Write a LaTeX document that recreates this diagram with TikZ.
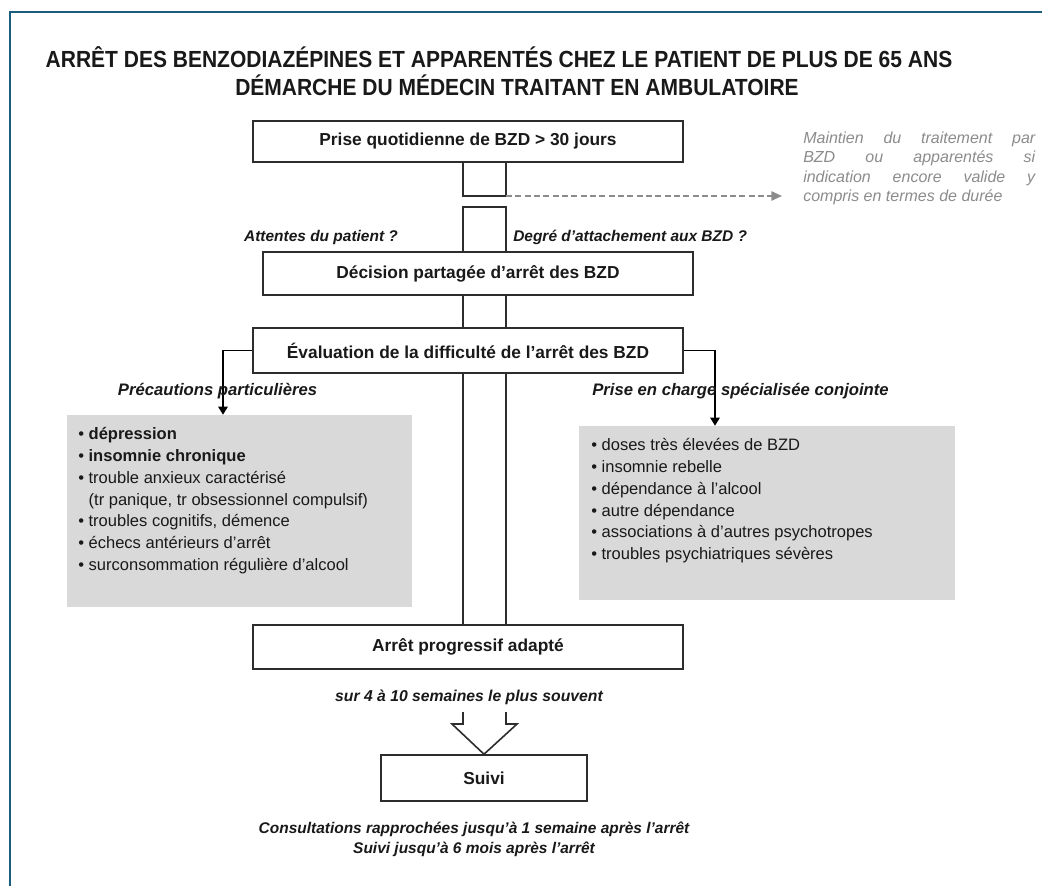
\documentclass[tikz,border=0pt]{standalone}
\usepackage{fontspec}
\setmainfont{Liberation Sans}
\usetikzlibrary{arrows.meta,calc}
\definecolor{framecol}{RGB}{27,93,124}
\definecolor{boxline}{RGB}{45,45,45}
\definecolor{greyfill}{RGB}{217,217,217}
\definecolor{greytext}{RGB}{140,140,140}
\definecolor{txt}{RGB}{25,25,25}
\begin{document}
\begin{tikzpicture}[x=0.75pt,y=-0.75pt,
  titlestyle/.style={font=\fontsize{17.5}{20}\selectfont\bfseries,text=txt,inner sep=0pt,xscale=0.9},
  stepbox/.style={draw=boxline,line width=1.2pt,fill=white,inner sep=0pt,font=\fontsize{13}{15}\selectfont\bfseries,text=txt},
  greybox/.style={fill=greyfill,draw=none,inner sep=0pt},
  pipe/.style={draw=boxline,line width=1.2pt},
  lab/.style={font=\fontsize{11.6}{14}\selectfont\bfseries\itshape,text=txt,inner sep=0pt},
  headlab/.style={font=\fontsize{12.5}{15}\selectfont\bfseries\itshape,text=txt,inner sep=0pt},
  conn/.style={draw=black,line width=1.2pt,-{Triangle[length=6pt,width=7pt]}},
  dashline/.style={draw=greytext,line width=1.2pt,dash pattern=on 4.5pt off 2.5pt,-{Triangle[length=8pt,width=7pt]}},
  itemlist/.style={font=\fontsize{12.4}{16.4}\selectfont,align=left,inner sep=0pt,anchor=north west,text=txt},
]
\useasboundingbox (0,0) rectangle (1042,886);
\fill[white] (0,0) rectangle (1042,886);
\draw[framecol,line width=2pt] (10,886) -- (10,12) -- (1042,12);

% titles
\node[titlestyle] (t1) at (499,57) {ARRÊT DES BENZODIAZÉPINES ET APPARENTÉS CHEZ LE PATIENT DE PLUS DE 65 ANS};
\node[titlestyle] (t2) at (517,85) {DÉMARCHE DU MÉDECIN TRAITANT EN AMBULATOIRE};

% pipe coordinates
\coordinate (pl) at (463,0);
\coordinate (pr) at (506,0);
\coordinate (ubot) at (484,196);
\coordinate (btop) at (484,207);

% boxes
\node[stepbox,minimum width=322.5pt,minimum height=30.75pt] (box1) at (468,141.5) {Prise quotidienne de BZD > 30 jours};
\node[stepbox,minimum width=322.5pt,minimum height=32.25pt] (dec) at (478,273.5) {Décision partagée d'arrêt des BZD};
\node[stepbox,minimum width=322.5pt,minimum height=33.75pt] (eva) at (468,350.5) {Évaluation de la difficulté de l'arrêt des BZD};
\node[stepbox,minimum width=322.5pt,minimum height=33pt] (arr) at (468,647) {Arrêt progressif adapté};
\node[stepbox,minimum width=154.5pt,minimum height=34.5pt] (suivi) at (484,778) {Suivi};

% pipe segments
\draw[pipe] (box1.south -| pl) -- (pl |- ubot) -- (pr |- ubot) -- (box1.south -| pr);
\draw[pipe] (dec.north -| pl) -- (pl |- btop) -- (pr |- btop) -- (dec.north -| pr);
\draw[pipe] (dec.south -| pl) -- (eva.north -| pl);
\draw[pipe] (dec.south -| pr) -- (eva.north -| pr);
\draw[pipe] (eva.south -| pl) -- (arr.north -| pl);
\draw[pipe] (eva.south -| pr) -- (arr.north -| pr);

% dashed arrow and side text
\node[anchor=north west,text width=174pt,align=justify,inner sep=0pt,
      font=\fontsize{12}{14.3}\selectfont\itshape,text=greytext] (maint) at (803,132)
  {Maintien du traitement par\linebreak BZD ou apparentés si\linebreak indication encore valide y\linebreak compris en termes de durée};
\coordinate (dtip) at (782,196);
\draw[dashline] (pr |- ubot) -- (dtip);

% labels around decision
\node[lab] (att) at (321,237) {Attentes du patient ?};
\node[lab,anchor=west] (deg) at (513,237) {Degré d'attachement aux BZD ?};

% grey boxes
\node[greybox,minimum width=258.75pt,minimum height=144pt] (gl) at (239.5,511) {};
\node[greybox,minimum width=282pt,minimum height=130.5pt] (gr) at (767,513) {};

% branches
\coordinate (lx) at (223,0);
\coordinate (rx) at (715,0);
\draw[conn] (eva.west) -| (gl.north -| lx);
\draw[conn] (eva.east) -| (gr.north -| rx);
\node[headlab] (prec) at (217.5,391) {Précautions particulières};
\node[headlab] (pec) at (740.5,391) {Prise en charge spécialisée conjointe};

% lists
\node[itemlist] (ll) at (78,427) {\textbullet\ \textbf{dépression}\\
\textbullet\ \textbf{insomnie chronique}\\
\textbullet\ trouble anxieux caractérisé\\
\hphantom{\textbullet\ }(tr panique, tr obsessionnel compulsif)\\
\textbullet\ troubles cognitifs, démence\\
\textbullet\ échecs antérieurs d'arrêt\\
\textbullet\ surconsommation régulière d'alcool};
\node[itemlist] (rl) at (591,438) {\textbullet\ doses très élevées de BZD\\
\textbullet\ insomnie rebelle\\
\textbullet\ dépendance à l'alcool\\
\textbullet\ autre dépendance\\
\textbullet\ associations à d'autres psychotropes\\
\textbullet\ troubles psychiatriques sévères};

% bottom
\node[lab,font=\fontsize{11.8}{14}\selectfont\bfseries\itshape] (sur) at (469,697) {sur 4 à 10 semaines le plus souvent};
\coordinate (bl) at (463,712);
\coordinate (br) at (506,712);
\draw[pipe,line join=miter] (bl) -- ++(0,12) -- ++(-11,0) -- (suivi.north) -- ($(br)+(11,12)$) -- ++(-11,0) -- (br);
\node[lab] (c1) at (474,829) {Consultations rapprochées jusqu'à 1 semaine après l'arrêt};
\node[lab] (c2) at (474,849) {Suivi jusqu'à 6 mois après l'arrêt};
\end{tikzpicture}
\end{document}
